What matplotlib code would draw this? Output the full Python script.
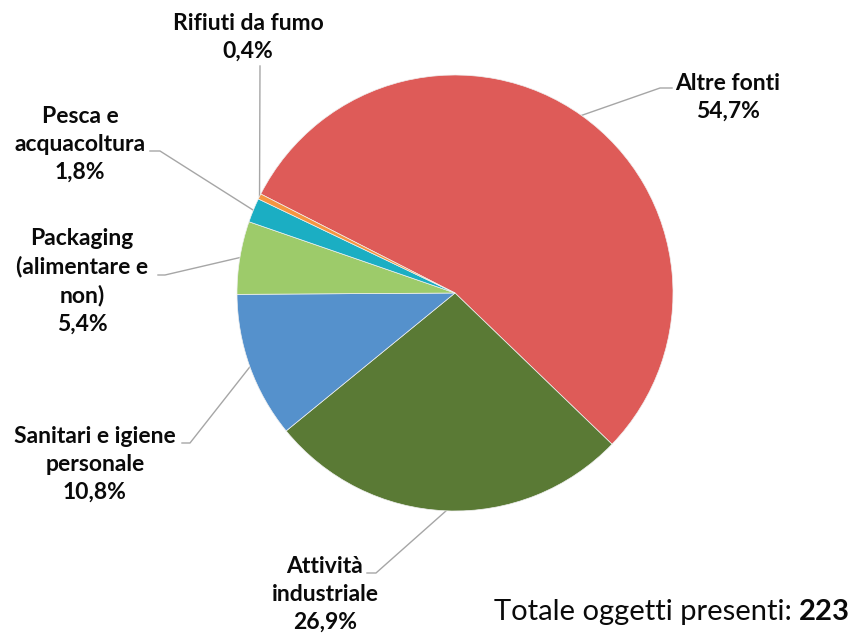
import numpy as np
import matplotlib.pyplot as plt

labels = ['Altre fonti', 'Attività\nindustriale', 'Sanitari e igiene\npersonale',
          'Packaging\n(alimentare e\nnon)', 'Pesca e\nacquacoltura', 'Rifiuti da fumo']
values = [54.7, 26.9, 10.8, 5.4, 1.8, 0.4]
colors = ['#DE5B58', '#5A7A35', '#5591CC', '#9DCB6A', '#1BAEC3', '#F59540']
total = 223

W, H = 856, 634
def Y(y):
    return H - y

fig = plt.figure(figsize=(W/100, H/100), dpi=100)
ax = fig.add_axes([0, 0, 1, 1])

cx, cy, r = 455, 293, 218
start = 153
wedges, _ = ax.pie(values, colors=colors, startangle=start, counterclock=False,
                   center=(cx, Y(cy)), radius=r, frame=True,
                   wedgeprops=dict(linewidth=0.5, edgecolor='#f0f0f0'))
ax.set_xlim(0, W)
ax.set_ylim(0, H)
ax.set_aspect('equal')
ax.axis('off')

# label text centre x and top y; leader (line start x, elbow x, y)
lab_pos = [(728, 73), (325, 556), (95, 426), (82, 228), (80, 106), (248, 13)]
leaders = [(672, 660, 88), (367, 376, 573), (182, 190, 443),
           (158, 165, 275), (150, 160, 151), (260, 260, 66)]

font = 'Lato'
for lab, v, (tx, ty), (lx, ex, ly), w in zip(labels, values, lab_pos, leaders, wedges):
    txt = lab + '\n' + f'{v:.1f}%'.replace('.', ',')
    ax.text(tx, Y(ty), txt, ha='center', va='top', fontsize=16.5, fontweight='bold',
            family=font, linespacing=1.4, color='#0a0a0a')
    mid = np.deg2rad((w.theta1 + w.theta2) / 2)
    px, py = cx + r*np.cos(mid), Y(cy) + r*np.sin(mid)
    ax.plot([lx, ex, px], [Y(ly), Y(ly), py], color='#A6A6A6', lw=1.0, zorder=0)

tl = ax.text(850, Y(612), 'Totale oggetti presenti: ', ha='right', va='center',
             fontsize=21, family=font, color='#0a0a0a')
t = ax.text(850, Y(612), str(total), ha='right', va='center', fontsize=21,
            family=font, fontweight='bold', color='#0a0a0a')
fig.canvas.draw()
bb = t.get_window_extent()
tl.set_x(850 - bb.width)

fig.savefig('out.png', dpi=100)
